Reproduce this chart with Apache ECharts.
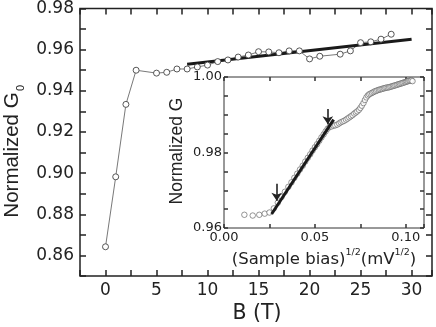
<!DOCTYPE html>
<html>
<head>
<meta charset="utf-8">
<script src="https://cdn.jsdelivr.net/npm/echarts@6/dist/echarts.min.js"></script>
<style>
  html, body { margin: 0; padding: 0; background: #fff; }
  #chart { width: 436px; height: 327px; }
</style>
</head>
<body>
<div id="chart"></div>
<script>
// main panel: normalized G0 vs field B
var fieldB = [0, 1, 2, 3, 5, 6, 7, 8, 9, 10, 11, 12, 13, 14, 15, 16, 17, 18, 19, 20, 21, 23, 24, 25, 26, 27, 28];
var normG0 = [0.8642, 0.8982, 0.9334, 0.9500, 0.9486, 0.9490, 0.9506, 0.9506, 0.9516, 0.9525, 0.9542, 0.9550, 0.9564, 0.9574,
  0.9590, 0.9589, 0.9585, 0.9594, 0.9594, 0.9555, 0.9568, 0.9578, 0.9594, 0.9634, 0.9638, 0.9651, 0.9675];
var fitMain = [[8, 0.9529], [30, 0.9651]];

// inset: normalized G vs sqrt(sample bias)
var insetX = [0.0112, 0.0158, 0.0194, 0.0224, 0.0250, 0.0274, 0.0296, 0.0316, 0.0335, 0.0354,
  0.0371, 0.0387, 0.0403, 0.0418, 0.0433, 0.0447, 0.0461, 0.0474, 0.0487, 0.0500,
  0.0512, 0.0524, 0.0536, 0.0548, 0.0559, 0.0570, 0.0581, 0.0592, 0.0602, 0.0612,
  0.0623, 0.0633, 0.0642, 0.0652, 0.0661, 0.0671, 0.0680, 0.0689, 0.0698, 0.0707,
  0.0716, 0.0725, 0.0733, 0.0742, 0.0750, 0.0758, 0.0767, 0.0775, 0.0783, 0.0791,
  0.0798, 0.0806, 0.0814, 0.0822, 0.0829, 0.0837, 0.0844, 0.0852, 0.0859, 0.0866,
  0.0873, 0.0880, 0.0887, 0.0894, 0.0901, 0.0908, 0.0915, 0.0922, 0.0929, 0.0935,
  0.0942, 0.0949, 0.0955, 0.0962, 0.0968, 0.0975, 0.0981, 0.0987, 0.0994, 0.1000,
  0.1006, 0.1012, 0.1019, 0.1025, 0.1031, 0.1037];
var insetG = [0.9635, 0.9633, 0.9635, 0.9638, 0.9641, 0.9652, 0.9667, 0.9682, 0.9696, 0.9709,
  0.9721, 0.9733, 0.9744, 0.9755, 0.9765, 0.9776, 0.9786, 0.9795, 0.9805, 0.9814,
  0.9822, 0.9831, 0.9840, 0.9848, 0.9856, 0.9863, 0.9868, 0.9869, 0.9871, 0.9872,
  0.9874, 0.9877, 0.9880, 0.9882, 0.9884, 0.9887, 0.9890, 0.9893, 0.9896, 0.9899,
  0.9903, 0.9906, 0.9909, 0.9913, 0.9918, 0.9924, 0.9931, 0.9939, 0.9946, 0.9951,
  0.9954, 0.9956, 0.9958, 0.9960, 0.9962, 0.9963, 0.9965, 0.9966, 0.9967, 0.9968,
  0.9969, 0.9970, 0.9971, 0.9972, 0.9972, 0.9973, 0.9974, 0.9975, 0.9976, 0.9977,
  0.9978, 0.9979, 0.9980, 0.9981, 0.9982, 0.9983, 0.9984, 0.9985, 0.9986, 0.9987,
  0.9988, 0.9989, 0.9990, 0.9990, 0.9991, 0.9989];
var fitInset = [[0.0262, 0.9637], [0.0603, 0.9887]];
var arrowLow = [[0.029, 0.9717], [0.029, 0.9672]];
var arrowHigh = [[0.0571, 0.9915], [0.0571, 0.9875]];

var ink = '#222';
var hFont = 'DejaVu Sans';
var vFont = 'Liberation Sans';

function pairs(xs, ys) {
  return xs.map(function (x, i) { return [x, ys[i]]; });
}

// one side of a boxed axis, ticks pointing inward
function boxAxis(opt, tickLen, tickColor) {
  return Object.assign({
    type: 'value',
    axisLine: { show: false, onZero: false },
    axisTick: { show: true, inside: true, length: tickLen, lineStyle: { color: tickColor, width: 1.5 } },
    splitLine: { show: false },
    axisLabel: { show: false }
  }, opt);
}

var chart = echarts.init(document.getElementById('chart'), null, { renderer: 'canvas' });

chart.setOption({
  animation: false,
  backgroundColor: '#fff',
  grid: [
    { left: 80, top: 8, width: 352, height: 268, show: true, borderColor: ink, borderWidth: 1.5, backgroundColor: 'transparent' },
    { left: 224, top: 77, width: 200, height: 151, show: true, borderColor: '#333', borderWidth: 1, backgroundColor: '#fff' }
  ],
  xAxis: [
    boxAxis({
      gridIndex: 0, position: 'bottom', min: -2.5, max: 32, interval: 2.5,
      axisLabel: {
        show: true, margin: 6, color: ink, fontSize: 17, fontFamily: hFont,
        formatter: function (v) {
          var k = Math.round(v * 10);
          return (k % 50 === 0 && k >= 0 && k <= 300) ? String(k / 10) : '';
        }
      }
    }, 6, ink),
    boxAxis({ gridIndex: 0, position: 'top', min: -2.5, max: 32, interval: 2.5 }, 6, ink),
    boxAxis({
      gridIndex: 1, position: 'bottom', min: 0, max: 0.11, interval: 0.025,
      axisLabel: {
        show: true, margin: 3, color: ink, fontSize: 13, fontFamily: hFont,
        formatter: function (v) {
          var k = Math.round(v * 1000);
          return (k % 50 === 0 && k <= 100) ? (k / 1000).toFixed(2) : '';
        }
      }
    }, 4, '#333'),
    boxAxis({ gridIndex: 1, position: 'top', min: 0, max: 0.11, interval: 0.025 }, 4, '#333')
  ],
  yAxis: [
    boxAxis({
      gridIndex: 0, position: 'left', min: 0.85, max: 0.98, interval: 0.01,
      axisLabel: {
        show: true, margin: 6, color: ink, fontSize: 17, fontFamily: hFont,
        formatter: function (v) {
          var k = Math.round(v * 100);
          return (k % 2 === 0 && k >= 86) ? (k / 100).toFixed(2) : '';
        }
      }
    }, 6, ink),
    boxAxis({ gridIndex: 0, position: 'right', min: 0.85, max: 0.98, interval: 0.01 }, 6, ink),
    boxAxis({
      gridIndex: 1, position: 'left', min: 0.96, max: 1.0, interval: 0.005,
      axisLabel: {
        show: true, margin: 2, color: ink, fontSize: 13, fontFamily: hFont,
        formatter: function (v) {
          var k = Math.round(v * 1000);
          return (k % 20 === 0) ? (k / 1000).toFixed(2) : '';
        }
      }
    }, 4, '#333'),
    boxAxis({ gridIndex: 1, position: 'right', min: 0.96, max: 1.0, interval: 0.005 }, 4, '#333')
  ],
  series: [
    {
      type: 'line', xAxisIndex: 0, yAxisIndex: 0,
      data: pairs(fieldB, normG0),
      symbol: 'circle', symbolSize: 6, showAllSymbol: true,
      lineStyle: { color: '#555', width: 0.8 },
      itemStyle: { color: '#fff', borderColor: '#444', borderWidth: 0.9 },
      silent: true
    },
    {
      type: 'line', xAxisIndex: 0, yAxisIndex: 0,
      data: fitMain, symbol: 'none',
      lineStyle: { color: '#1a1a1a', width: 3 },
      silent: true
    },
    {
      type: 'scatter', xAxisIndex: 2, yAxisIndex: 2,
      data: pairs(insetX, insetG),
      symbol: 'circle', symbolSize: 5.5,
      itemStyle: { color: '#fff', borderColor: '#5a5a5a', borderWidth: 0.8 },
      silent: true
    },
    {
      type: 'line', xAxisIndex: 2, yAxisIndex: 2,
      data: fitInset, symbol: 'none',
      lineStyle: { color: '#1a1a1a', width: 3 },
      silent: true,
      markLine: {
        silent: true,
        symbol: ['none', 'arrow'],
        symbolSize: 8,
        label: { show: false },
        lineStyle: { color: ink, width: 1.6, type: 'solid' },
        data: [
          [{ coord: arrowLow[0] }, { coord: arrowLow[1] }],
          [{ coord: arrowHigh[0] }, { coord: arrowHigh[1] }]
        ]
      }
    }
  ],
  graphic: [
    {
      type: 'text', x: 12, y: 155, rotation: Math.PI / 2, silent: true,
      style: { text: 'Normalized G', fill: ink, font: '20.5px "' + vFont + '"', align: 'center', verticalAlign: 'middle' }
    },
    {
      type: 'text', x: 21, y: 88, rotation: Math.PI / 2, silent: true,
      style: { text: '0', fill: ink, font: '11px "' + vFont + '"', align: 'center', verticalAlign: 'middle' }
    },
    {
      type: 'text', x: 257, y: 314, silent: true,
      style: { text: 'B (T)', fill: ink, font: '20.5px "' + hFont + '"', align: 'center', verticalAlign: 'middle' }
    },
    {
      type: 'text', x: 177, y: 151, rotation: Math.PI / 2, silent: true,
      style: { text: 'Normalized G', fill: ink, font: '17.5px "' + vFont + '"', align: 'center', verticalAlign: 'middle' }
    },
    {
      type: 'text', x: 324, y: 258, silent: true,
      style: {
        text: '{n|(Sample bias)}{u|1/2}{n|(mV}{u|1/2}{n|)}',
        fill: ink, align: 'center', verticalAlign: 'middle',
        rich: {
          n: { fontSize: 16.5, fontFamily: hFont, lineHeight: 20, verticalAlign: 'bottom', fill: ink },
          u: { fontSize: 9.5, fontFamily: hFont, lineHeight: 11, verticalAlign: 'top', fill: ink }
        }
      }
    }
  ]
});
</script>
</body>
</html>
